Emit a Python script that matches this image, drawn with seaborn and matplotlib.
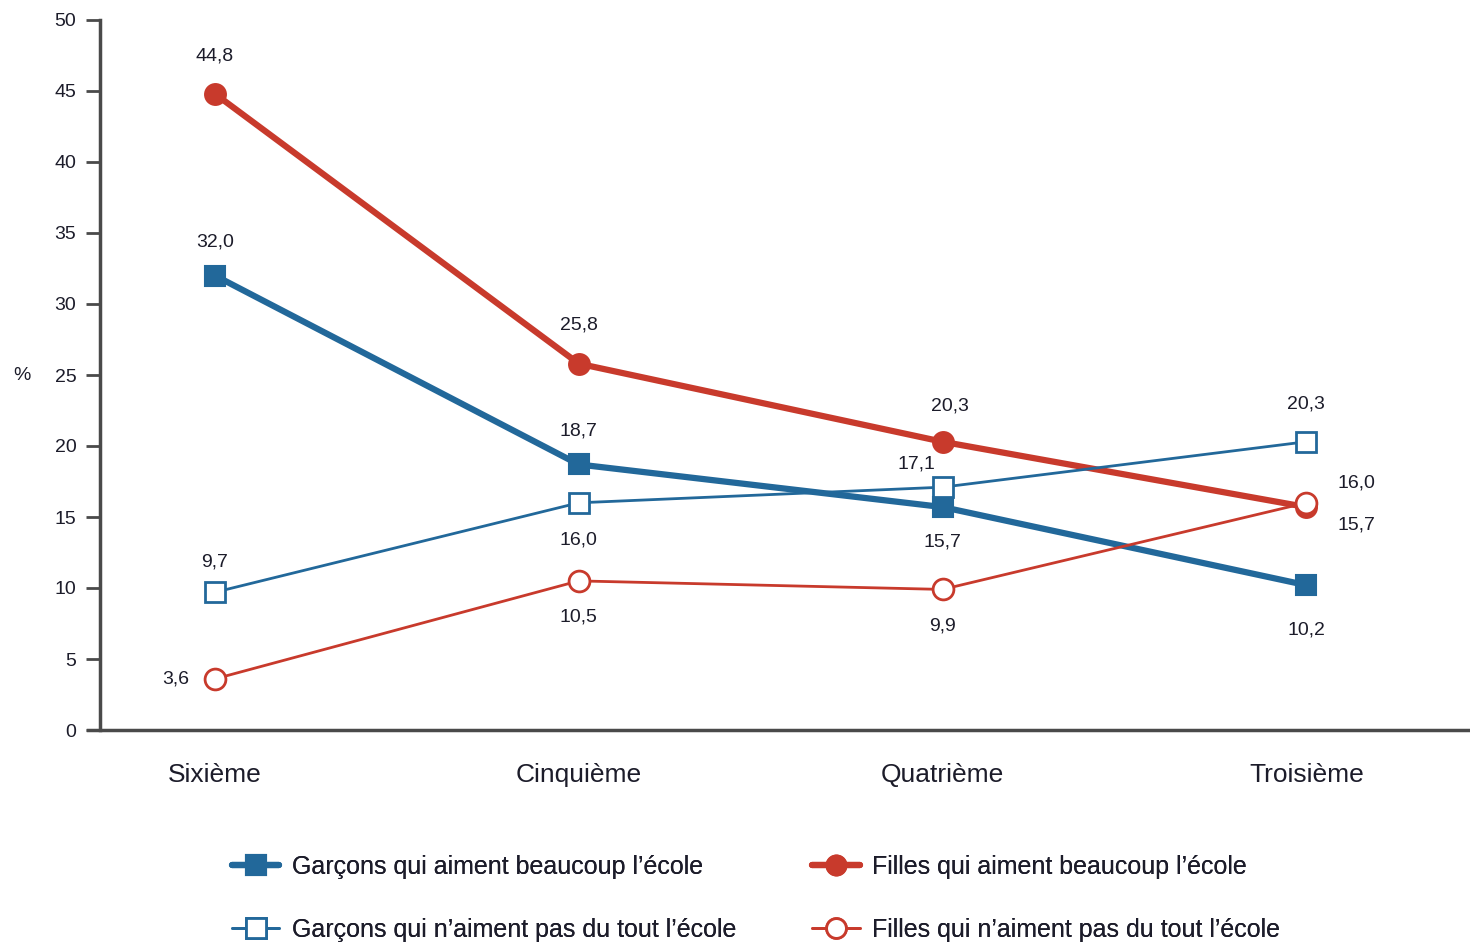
import matplotlib
matplotlib.use("Agg")
import matplotlib.pyplot as plt
import seaborn as sns
import pandas as pd
from matplotlib.lines import Line2D

categories = ["Sixième", "Cinquième", "Quatrième", "Troisième"]
garcons_beaucoup = [32.0, 18.7, 15.7, 10.2]
filles_beaucoup = [44.8, 25.8, 20.3, 15.7]
garcons_pas = [9.7, 16.0, 17.1, 20.3]
filles_pas = [3.6, 10.5, 9.9, 16.0]
series_names = {
    "gb": "Garçons qui aiment beaucoup l\u2019école",
    "fb": "Filles qui aiment beaucoup l\u2019école",
    "gp": "Garçons qui n\u2019aiment pas du tout l\u2019école",
    "fp": "Filles qui n\u2019aiment pas du tout l\u2019école",
}
yticks = [0, 5, 10, 15, 20, 25, 30, 35, 40, 45, 50]

sns.set_style("white")
FONT = ["Liberation Sans", "DejaVu Sans"]
plt.rcParams["font.family"] = FONT

BLUE = "#22689a"
RED = "#c83a2c"
TXT = "#1c1c2a"
SP = "#4a4a4a"

fig = plt.figure(figsize=(14.7, 9.47), dpi=100)
ax = fig.add_axes([100 / 1470, 217 / 947, 1 - 100 / 1470, 710 / 947])

df = pd.DataFrame({"cat": categories, "gb": garcons_beaucoup, "fb": filles_beaucoup,
                   "gp": garcons_pas, "fp": filles_pas})
df["x"] = range(len(categories))

styles = {
    "gb": dict(color=BLUE, lw=4.5, marker="s", ms=15, mfc=BLUE, mec=BLUE, mew=1.5),
    "fb": dict(color=RED, lw=4.5, marker="o", ms=15, mfc=RED, mec=RED, mew=1.5),
    "gp": dict(color=BLUE, lw=2.0, marker="s", ms=15, mfc="white", mec=BLUE, mew=2.0),
    "fp": dict(color=RED, lw=2.0, marker="o", ms=15, mfc="white", mec=RED, mew=2.0),
}
for key in ["gb", "fb", "gp", "fp"]:
    s = styles[key]
    sns.lineplot(data=df, x="x", y=key, ax=ax, color=s["color"], linewidth=s["lw"],
                 marker=s["marker"], markersize=s["ms"], markerfacecolor=s["mfc"],
                 markeredgecolor=s["mec"], markeredgewidth=s["mew"], legend=False)

# value labels (offsets in points)
offsets = {
    "gb": [(0, 24), (0, 24), (0, -25), (0, -32)],
    "fb": [(0, 27), (0, 28), (5, 26), (36, -13)],
    "gp": [(0, 22), (0, -27), (-19, 17), (0, 27)],
    "fp": [(-28, 0), (0, -26), (0, -26), (36, 14)],
}
series = {"gb": garcons_beaucoup, "fb": filles_beaucoup, "gp": garcons_pas, "fp": filles_pas}
for key, vals in series.items():
    for i, v in enumerate(vals):
        dx, dy = offsets[key][i]
        ax.annotate(f"{v:.1f}".replace(".", ","), (i, v), xytext=(dx, dy),
                    textcoords="offset points", ha="center", va="center",
                    fontsize=14, color=TXT, family=FONT)

ax.set_xlim(-0.316, 3.45)
ax.set_ylim(0, 50)
ax.set_yticks(yticks)
ax.set_yticklabels([str(t) for t in yticks], fontsize=14, color=TXT, family=FONT)
ax.set_xticks(range(len(categories)))
ax.set_xticklabels(categories, fontsize=19, color=TXT, family=FONT)
ax.tick_params(axis="y", length=10, width=2, color=SP, direction="out", pad=7, left=True)
ax.tick_params(axis="x", length=0, pad=24)
ax.set_xlabel("")
ax.set_ylabel("%", rotation=0, fontsize=14, color=TXT, family=FONT, va="center")
ax.yaxis.set_label_coords(-0.057, 0.5)

for side in ["top", "right"]:
    ax.spines[side].set_visible(False)
ax.spines["left"].set_color(SP)
ax.spines["left"].set_linewidth(2.5)
ax.spines["bottom"].set_color(SP)
ax.spines["bottom"].set_linewidth(2.5)
ax.spines["bottom"].set_bounds(-0.35, 3.45)
ax.spines["bottom"].set_clip_on(False)


def make_handle(key):
    s = styles[key]
    return Line2D([], [], color=s["color"], lw=s["lw"], marker=s["marker"],
                  ms=s["ms"] * 0.95, mfc=s["mfc"], mec=s["mec"], mew=s["mew"])


for keys, x0 in [(["gb", "gp"], 232 / 1470), (["fb", "fp"], 812 / 1470)]:
    leg = fig.legend([make_handle(k) for k in keys], [series_names[k] for k in keys],
                     loc="upper left", bbox_to_anchor=(x0, 92 / 947), frameon=False,
                     prop={"family": FONT, "size": 18}, handlelength=1.9,
                     labelspacing=1.55, handletextpad=0.5, borderpad=0,
                     borderaxespad=0)
    for t in leg.get_texts():
        t.set_color(TXT)
    fig.add_artist(leg)

fig.savefig("out.png", dpi=100)
